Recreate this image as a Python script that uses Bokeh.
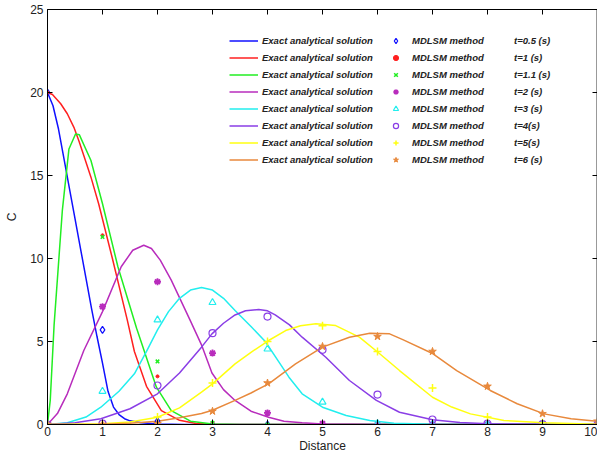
from bokeh.plotting import figure
from bokeh.models import Range1d, LinearAxis, Legend, LegendItem, FixedTicker
from bokeh.embed import file_html
from bokeh.resources import INLINE

# ---------------- data ----------------
xm = [0, 1, 2, 3, 4, 5, 6, 7, 8, 9, 10]

blue_x = [0, 0.1, 0.2, 0.3, 0.4, 0.5, 0.6, 0.7, 0.8, 0.9, 1.0, 1.1, 1.2, 1.3, 1.4, 1.5, 1.7, 2.0, 2.5, 3, 4, 5, 6, 7, 8, 9, 10]
blue_y = [20, 19.2, 17.8, 16.0, 14.2, 12.4, 10.6, 8.8, 7.0, 5.3, 3.7, 2.0, 1.05, 0.6, 0.35, 0.22, 0.1, 0.03, 0, 0, 0, 0, 0, 0, 0, 0, 0]
blue_m = [20, 5.7, 0.2, 0, 0, 0, 0, 0, 0, 0, 0]

red_x = [0, 0.09, 0.24, 0.36, 0.48, 0.57, 0.67, 0.79, 0.93, 1.18, 1.45, 1.58, 1.8, 2.07, 2.4, 2.7, 3, 4, 5, 6, 7, 8, 9, 10]
red_y = [20, 19.88, 19.32, 18.72, 17.9, 17.1, 16.1, 14.9, 13.3, 10.0, 6.3, 4.4, 2.3, 0.84, 0.25, 0.06, 0.01, 0, 0, 0, 0, 0, 0, 0]
red_m = [20, 11.4, 2.9, 0.1, 0, 0, 0, 0, 0, 0, 0]

green_x = [0, 0.05, 0.12, 0.27, 0.39, 0.51, 0.58, 0.79, 1.0, 1.28, 1.62, 1.98, 2.25, 2.6, 3.0, 3.5, 4, 5, 6, 7, 8, 9, 10]
green_y = [0, 1.45, 6.0, 12.9, 16.6, 17.5, 17.45, 15.9, 13.3, 9.5, 5.8, 2.25, 0.84, 0.2, 0.03, 0, 0, 0, 0, 0, 0, 0, 0]
green_m = [0, 11.3, 3.8, 0.1, 0, 0, 0, 0, 0, 0, 0]

mag_x = [0, 0.18, 0.36, 0.66, 1.0, 1.34, 1.55, 1.75, 1.89, 2.05, 2.25, 2.59, 2.8, 2.99, 3.2, 3.41, 3.7, 4.02, 4.3, 4.63, 5, 6, 7, 8, 9, 10]
mag_y = [0, 0.66, 1.85, 4.46, 6.8, 9.5, 10.5, 10.8, 10.6, 9.9, 8.7, 6.3, 4.8, 3.1, 2.1, 1.45, 0.8, 0.44, 0.2, 0.1, 0.03, 0, 0, 0, 0, 0]
mag_m = [0, 7.1, 8.6, 4.3, 0.7, 0.05, 0, 0, 0, 0, 0]

cyan_x = [0, 0.36, 0.7, 0.97, 1.3, 1.58, 1.8, 2.0, 2.2, 2.4, 2.6, 2.8, 3.0, 3.2, 3.41, 3.7, 3.96, 4.2, 4.39, 4.63, 5.0, 5.43, 5.86, 6.3, 7, 8, 9, 10]
cyan_y = [0, 0.1, 0.45, 1.04, 2.0, 3.05, 4.4, 5.7, 6.8, 7.6, 8.1, 8.25, 8.1, 7.6, 6.87, 5.9, 5.0, 3.8, 2.85, 1.85, 1.04, 0.54, 0.24, 0.08, 0.02, 0, 0, 0]
cyan_m = [0, 2.0, 6.3, 7.35, 4.55, 1.35, 0.05, 0, 0, 0, 0]

purp_x = [0, 0.5, 0.97, 1.5, 2.0, 2.4, 2.8, 2.99, 3.2, 3.41, 3.6, 3.84, 4.0, 4.14, 4.4, 4.63, 5.06, 5.49, 5.98, 6.4, 7.0, 7.5, 8, 9, 10]
purp_y = [0, 0.1, 0.35, 0.95, 1.85, 3.1, 4.66, 5.46, 6.1, 6.6, 6.85, 6.93, 6.85, 6.6, 6.0, 5.26, 4.05, 2.65, 1.45, 0.74, 0.28, 0.12, 0.05, 0.01, 0]
purp_m = [0, 0.05, 2.35, 5.5, 6.5, 4.5, 1.8, 0.3, 0.05, 0.02, 0]

yel_x = [0, 1, 1.5, 2.0, 2.4, 2.8, 3.0, 3.41, 3.7, 4.02, 4.33, 4.6, 4.88, 5.24, 5.67, 6.04, 6.4, 7.0, 7.35, 7.69, 8.3, 9.03, 10]
yel_y = [0, 0.05, 0.15, 0.44, 1.0, 1.95, 2.45, 3.65, 4.35, 5.06, 5.66, 5.95, 6.07, 5.96, 5.26, 4.26, 3.25, 1.64, 1.05, 0.64, 0.24, 0.1, 0.02]
yel_m = [0, 0.02, 0.45, 2.5, 5.0, 5.95, 4.4, 2.2, 0.45, 0.1, 0.03]

org_x = [0, 1, 1.5, 2, 2.4, 2.8, 3.0, 3.41, 3.7, 4.02, 4.51, 5.0, 5.49, 5.86, 6.22, 6.47, 7.01, 7.44, 8.05, 8.54, 9.03, 9.52, 10]
org_y = [0, 0.02, 0.08, 0.2, 0.4, 0.66, 0.86, 1.45, 1.9, 2.45, 3.65, 4.66, 5.26, 5.5, 5.46, 5.1, 4.26, 3.25, 2.05, 1.25, 0.64, 0.34, 0.2]
org_m = [0, 0, 0.05, 0.8, 2.5, 4.7, 5.3, 4.4, 2.3, 0.65, 0.2]

times = ["t=0.5 (s)", "t=1 (s)", "t=1.1 (s)", "t=2 (s)", "t=3 (s)", "t=4(s)", "t=5(s)", "t=6 (s)"]
line_label = "Exact analytical solution"
marker_label = "MDLSM method"
x_ticks = [0, 1, 2, 3, 4, 5, 6, 7, 8, 9, 10]
y_ticks = [0, 5, 10, 15, 20, 25]

colors = ["#1010ff", "#ff2020", "#22ee22", "#b82cbc", "#22eeee", "#8a3ee6", "#ffff10", "#e8893c"]

series = [
    (blue_x, blue_y, blue_m, dict(marker="diamond", size=7, fill_color=None, line_width=1.2)),
    (red_x, red_y, red_m, dict(marker="circle", size=3, line_width=1)),
    (green_x, green_y, green_m, dict(marker="x", size=5, line_width=1.5)),
    (mag_x, mag_y, mag_m, dict(marker="asterisk", size=7, line_width=1.8)),
    (cyan_x, cyan_y, cyan_m, dict(marker="triangle", size=7, fill_color=None, line_width=1.2)),
    (purp_x, purp_y, purp_m, dict(marker="circle", size=7, fill_color=None, line_width=1.2)),
    (yel_x, yel_y, yel_m, dict(marker="cross", size=8, line_width=1.5)),
    (org_x, org_y, org_m, dict(marker="star", size=8, line_width=1)),
]

FONT = "Liberation Sans"

p = figure(width=597, height=456, x_range=Range1d(0, 10), y_range=Range1d(0, 25),
           output_backend="svg", toolbar_location=None,
           min_border_left=47, min_border_right=0, min_border_top=9, min_border_bottom=32)
p.xgrid.visible = False
p.ygrid.visible = False
p.outline_line_color = None
p.background_fill_color = "white"

line_renderers = []
marker_renderers = []
for (lx, ly, mv, mk), c in zip(series, colors):
    line_renderers.append(p.line(lx, ly, line_color=c, line_width=1.5))
for (lx, ly, mv, mk), c in zip(series, colors):
    kw = dict(mk)
    if "fill_color" not in kw:
        kw["fill_color"] = c
    marker_renderers.append(p.scatter(xm, mv, line_color=c, **kw))

ghost = p.line([], [], line_alpha=0)


def style_axis(ax, labels=True):
    ax.major_tick_in = 5
    ax.major_tick_out = 0
    ax.minor_tick_in = 0
    ax.minor_tick_out = 0
    ax.axis_line_color = "black"
    ax.major_tick_line_color = "black"
    if labels:
        ax.major_label_text_font = FONT
        ax.major_label_text_font_size = "12px"
        ax.major_label_text_color = "#222222"
        ax.axis_label_text_font = FONT
        ax.axis_label_text_font_size = "12px"
        ax.axis_label_text_font_style = "normal"
        ax.axis_label_text_color = "#222222"
    else:
        ax.major_label_overrides = {t: "" for t in ax.ticker.ticks}
        ax.major_label_text_font_size = "1px"
        ax.major_label_standoff = 0


xa = p.xaxis[0]
xa.ticker = FixedTicker(ticks=x_ticks)
style_axis(xa)
xa.major_label_standoff = 2
xa.axis_label = "Distance"
xa.axis_label_standoff = 0

ya = p.yaxis[0]
ya.ticker = FixedTicker(ticks=y_ticks)
style_axis(ya)
ya.major_label_standoff = 4
ya.axis_label = "C"
ya.axis_label_standoff = 8

top = LinearAxis(ticker=FixedTicker(ticks=x_ticks))
style_axis(top, labels=False)
p.add_layout(top, "above")

right = LinearAxis(ticker=FixedTicker(ticks=y_ticks))
style_axis(right, labels=False)
right.axis_line_color = "#777777"
right.axis_line_width = 2.5
p.add_layout(right, "right")

common = dict(label_text_font=FONT, label_text_font_style="bold italic", label_text_font_size="9.5px",
              label_text_color="#222222", glyph_height=13, label_height=13, spacing=4, padding=0, margin=0,
              border_line_alpha=0, background_fill_alpha=0)

leg1 = Legend(items=[LegendItem(label=line_label, renderers=[r]) for r in line_renderers],
              location=(182, 258), glyph_width=29, label_standoff=4, **common)
leg2 = Legend(items=[LegendItem(label=marker_label, renderers=[r]) for r in marker_renderers],
              location=(342, 258), glyph_width=13, label_standoff=10, **common)
leg3 = Legend(items=[LegendItem(label=t, renderers=[ghost]) for t in times],
              location=(466, 258), glyph_width=1, label_standoff=0, **common)
for lg in (leg1, leg2, leg3):
    p.add_layout(lg, "center")

open("out.html", "w").write(file_html(p, INLINE))
